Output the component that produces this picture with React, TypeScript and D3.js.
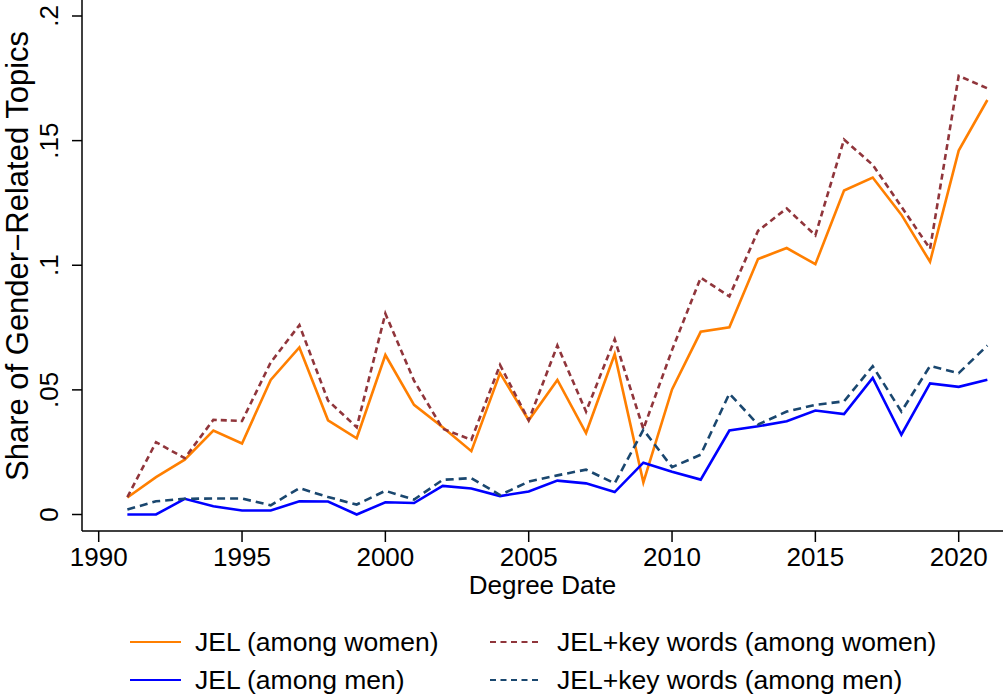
import { useEffect, useRef } from 'react'
import * as d3 from 'd3'

const years = d3.range(1991, 2022)

const jelWomen = [
  0.0068, 0.015, 0.022, 0.0337, 0.0285, 0.054, 0.067, 0.0378, 0.0306, 0.064,
  0.044, 0.035, 0.0254, 0.0567, 0.0378, 0.054, 0.0327, 0.0643, 0.0129, 0.0502,
  0.0733, 0.0751, 0.1025, 0.1069, 0.1004, 0.13, 0.1352, 0.1203, 0.1014, 0.146, 0.1663,
]
const kwWomen = [
  0.007, 0.029, 0.0226, 0.038, 0.0375, 0.061, 0.076, 0.0457, 0.035, 0.0806,
  0.0537, 0.0344, 0.03, 0.06, 0.0378, 0.0678, 0.0413, 0.0703, 0.0343, 0.066,
  0.095, 0.0875, 0.1138, 0.1228, 0.112, 0.1504, 0.1403, 0.1235, 0.1066, 0.176, 0.171,
]
const jelMen = [
  0, 0, 0.0063, 0.0033, 0.0016, 0.0016, 0.0053, 0.0052, 0, 0.0049,
  0.0046, 0.0115, 0.0104, 0.0074, 0.0092, 0.0136, 0.0125, 0.009, 0.0208, 0.0172,
  0.014, 0.0337, 0.0354, 0.0374, 0.0417, 0.0403, 0.0548, 0.032, 0.0526, 0.0512, 0.0541,
]
const kwMen = [
  0.002, 0.0053, 0.0063, 0.0064, 0.0064, 0.0037, 0.0106, 0.007, 0.004, 0.0095,
  0.006, 0.0139, 0.0146, 0.0078, 0.0132, 0.0157, 0.018, 0.0125, 0.034, 0.019,
  0.024, 0.0485, 0.0361, 0.0413, 0.044, 0.0454, 0.0595, 0.0413, 0.0596, 0.0567, 0.0678,
]

const xTicks = [1990, 1995, 2000, 2005, 2010, 2015, 2020]
const yTicks = [0, 0.05, 0.1, 0.15, 0.2]
const yTickLabels = ['0', '.05', '.1', '.15', '.2']

const seriesNames = [
  'JEL (among women)',
  'JEL+key words (among women)',
  'JEL (among men)',
  'JEL+key words (among men)',
]

interface Series {
  name: string
  values: number[]
  color: string
  dash: string | null
}

export default function App() {
  const ref = useRef<SVGSVGElement>(null)

  useEffect(() => {
    if (!ref.current) return
    const svg = d3.select(ref.current)
    svg.selectAll('*').remove()

    const font = '"Liberation Sans", Arial, Helvetica, sans-serif'
    const axisX = 82
    const axisY = 531

    const x = d3.scaleLinear().domain([1990, 2020]).range([98.7, 958.7])
    const y = d3.scaleLinear().domain([0, 0.2]).range([514.5, 16])

    const series: Series[] = [
      { name: seriesNames[0], values: jelWomen, color: '#ff7f00', dash: null },
      { name: seriesNames[1], values: kwWomen, color: '#90353b', dash: '6,4' },
      { name: seriesNames[2], values: jelMen, color: '#0000ff', dash: null },
      { name: seriesNames[3], values: kwMen, color: '#1a476f', dash: '8,5' },
    ]

    svg.append('rect').attr('width', 1003).attr('height', 698).attr('fill', '#fff')

    // Axes lines
    svg.append('line')
      .attr('x1', axisX).attr('x2', axisX).attr('y1', 0).attr('y2', axisY)
      .attr('stroke', '#000').attr('stroke-width', 1.5)
    svg.append('line')
      .attr('x1', axisX).attr('x2', 1003).attr('y1', axisY).attr('y2', axisY)
      .attr('stroke', '#000').attr('stroke-width', 1.5)

    // Y ticks + rotated labels
    yTicks.forEach((t, i) => {
      svg.append('line')
        .attr('x1', axisX - 10).attr('x2', axisX).attr('y1', y(t)).attr('y2', y(t))
        .attr('stroke', '#000').attr('stroke-width', 1.5)
      svg.append('text')
        .attr('transform', `translate(58,${y(t)}) rotate(-90)`)
        .attr('text-anchor', 'middle')
        .style('font-family', font).style('font-size', '26px')
        .text(yTickLabels[i])
    })

    // X ticks + labels
    xTicks.forEach((t) => {
      svg.append('line')
        .attr('x1', x(t)).attr('x2', x(t)).attr('y1', axisY).attr('y2', axisY + 11)
        .attr('stroke', '#000').attr('stroke-width', 1.5)
      svg.append('text')
        .attr('x', x(t)).attr('y', 566)
        .attr('text-anchor', 'middle')
        .style('font-family', font).style('font-size', '26px')
        .text(t)
    })

    // Axis titles
    svg.append('text')
      .attr('x', (axisX + 1003) / 2).attr('y', 594)
      .attr('text-anchor', 'middle')
      .style('font-family', font).style('font-size', '26px')
      .text('Degree Date')
    svg.append('text')
      .attr('transform', `translate(28,256) rotate(-90)`)
      .attr('text-anchor', 'middle')
      .style('font-family', font).style('font-size', '31px')
      .text('Share of Gender\u2212Related Topics')

    // Lines
    const line = d3.line<number>()
      .x((_, i) => x(years[i]))
      .y((d) => y(d))

    const drawOrder = [0, 2, 3, 1]
    drawOrder.forEach((k) => {
      const s = series[k]
      svg.append('path')
        .datum(s.values)
        .attr('d', line)
        .attr('fill', 'none')
        .attr('stroke', s.color)
        .attr('stroke-width', 2.6)
        .attr('stroke-linejoin', 'miter')
        .attr('stroke-dasharray', s.dash)
    })

    // Legend
    const legendPos = [
      { lx: 130, tx: 195, cy: 642 },
      { lx: 490, tx: 557, cy: 642 },
      { lx: 130, tx: 195, cy: 680 },
      { lx: 490, tx: 557, cy: 680 },
    ]
    series.forEach((s, i) => {
      const p = legendPos[i]
      svg.append('line')
        .attr('x1', p.lx).attr('x2', p.lx + 51).attr('y1', p.cy).attr('y2', p.cy)
        .attr('stroke', s.color).attr('stroke-width', 2)
        .attr('stroke-dasharray', s.dash ? '6,4.5' : null)
      svg.append('text')
        .attr('x', p.tx).attr('y', p.cy + 9)
        .style('font-family', font).style('font-size', '26.5px')
        .text(s.name)
    })
  }, [])

  return (
    <svg
      ref={ref}
      width={1003}
      height={698}
      style={{ position: 'absolute', left: 0, top: 0 }}
    />
  )
}
